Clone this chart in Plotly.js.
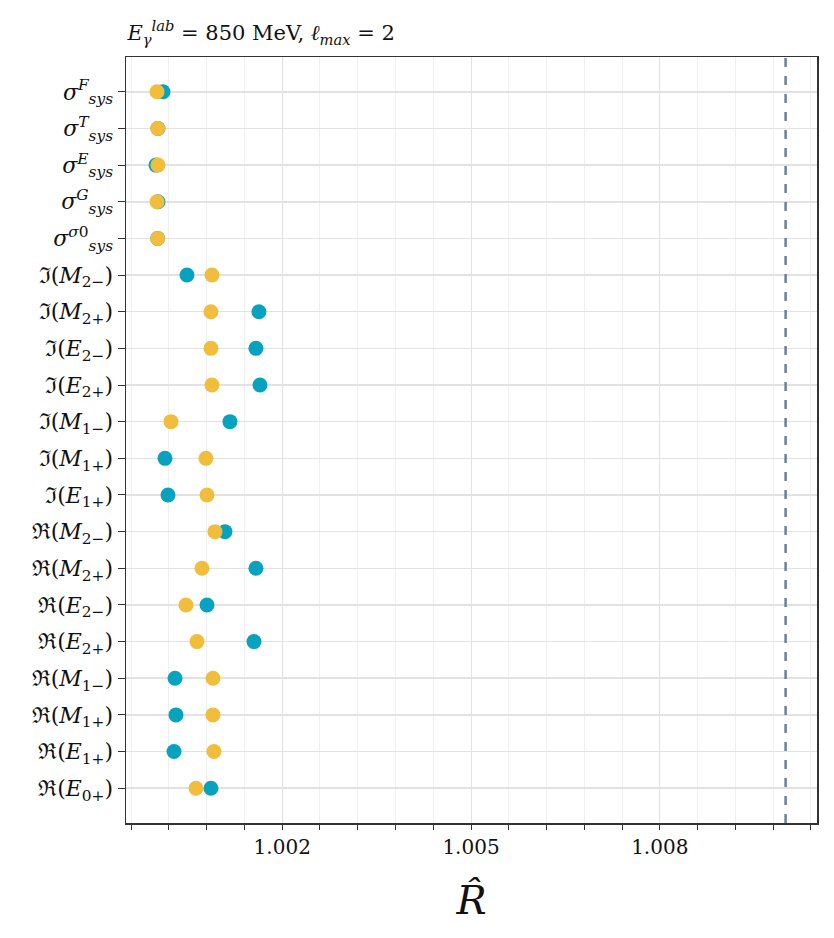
<!DOCTYPE html>
<html>
<head>
<meta charset="utf-8">
<script src="https://cdn.plot.ly/plotly-3.0.1.min.js"></script>
<style>
  html, body { margin: 0; padding: 0; background: #fff; }
  #chart { width: 834px; height: 938px; }
</style>
</head>
<body>
<div id="chart"></div>
<script>
// parameter labels, listed bottom to top
const labels = [
    'ℜ(<i>E</i><sub>0+</sub>)',
    'ℜ(<i>E</i><sub>1+</sub>)',
    'ℜ(<i>M</i><sub>1+</sub>)',
    'ℜ(<i>M</i><sub>1−</sub>)',
    'ℜ(<i>E</i><sub>2+</sub>)',
    'ℜ(<i>E</i><sub>2−</sub>)',
    'ℜ(<i>M</i><sub>2+</sub>)',
    'ℜ(<i>M</i><sub>2−</sub>)',
    'ℑ(<i>E</i><sub>1+</sub>)',
    'ℑ(<i>M</i><sub>1+</sub>)',
    'ℑ(<i>M</i><sub>1−</sub>)',
    'ℑ(<i>E</i><sub>2+</sub>)',
    'ℑ(<i>E</i><sub>2−</sub>)',
    'ℑ(<i>M</i><sub>2+</sub>)',
    'ℑ(<i>M</i><sub>2−</sub>)',
    '<i>σ</i><sup><i>σ</i>0</sup><sub><i>sys</i></sub>',
    '<i>σ</i><sup><i>G</i></sup><sub><i>sys</i></sub>',
    '<i>σ</i><sup><i>E</i></sup><sub><i>sys</i></sub>',
    '<i>σ</i><sup><i>T</i></sup><sub><i>sys</i></sub>',
    '<i>σ</i><sup><i>F</i></sup><sub><i>sys</i></sub>'
];

// R-hat values (same order as labels)
const blueValues = [
    1.000867, 1.000280, 1.000311, 1.000296, 1.001551, 1.000804, 1.001582, 1.001089,
    1.000184, 1.000137, 1.001169, 1.001646, 1.001582, 1.001630, 1.000486,
    1.000020, 1.000025, 0.999994, 1.000025, 1.000105
];
const yellowValues = [
    1.000629, 1.000915, 1.000899, 1.000899, 1.000645, 1.000470, 1.000724, 1.000931,
    1.000804, 1.000788, 1.000232, 1.000883, 1.000867, 1.000867, 1.000883,
    1.000020, 1.000010, 1.000025, 1.000020, 1.000010
];

const refLine = 1.01;

const serif = 'DejaVu Serif, serif';

const blueTrace = {
    x: blueValues,
    y: labels,
    type: 'scatter',
    mode: 'markers',
    name: 'blue',
    marker: { size: 15, color: '#07a2be' }
};

const yellowTrace = {
    x: yellowValues,
    y: labels,
    type: 'scatter',
    mode: 'markers',
    name: 'yellow',
    marker: { size: 15, color: '#f1bd3d' }
};

const layout = {
    width: 834,
    height: 938,
    margin: { l: 126, r: 17, t: 57, b: 115 },
    paper_bgcolor: '#fff',
    plot_bgcolor: '#fff',
    showlegend: false,
    font: { family: serif, color: '#111' },
    title: {
        text: '<i>E</i><sub><i>γ</i></sub><sup><i>lab</i></sup> = 850 MeV, <i>ℓ</i><sub><i>max</i></sub> = 2',
        font: { family: serif, size: 21, color: '#111' },
        x: 0.002,
        xref: 'paper',
        xanchor: 'left',
        y: 0.965,
        yref: 'container',
        yanchor: 'middle'
    },
    xaxis: {
        range: [0.999517, 1.010499],
        tick0: 1.002,
        dtick: 0.003,
        tickformat: '.3f',
        ticks: 'outside',
        ticklen: 5,
        tickcolor: '#333',
        tickfont: { family: serif, size: 20, color: '#111' },
        showgrid: true,
        gridcolor: '#e2e2e2',
        gridwidth: 1,
        zeroline: false,
        showline: true,
        linecolor: '#333',
        linewidth: 1.5,
        mirror: true,
        minor: {
            dtick: 0.0006,
            tick0: 1.002,
            ticks: 'outside',
            ticklen: 5,
            tickcolor: '#333',
            showgrid: true,
            gridcolor: '#efefef',
            gridwidth: 1
        },
        title: {
            text: '<i>R̂</i>',
            font: { family: serif, size: 40, color: '#111' },
            standoff: 28
        }
    },
    yaxis: {
        type: 'category',
        categoryorder: 'array',
        categoryarray: labels,
        range: [-0.95, 19.95],
        ticks: 'outside',
        ticklen: 7,
        tickcolor: '#333',
        tickfont: { family: serif, size: 22, color: '#111' },
        showgrid: true,
        gridcolor: '#e2e2e2',
        gridwidth: 1.5,
        zeroline: false,
        showline: true,
        linecolor: '#333',
        linewidth: 1.5,
        mirror: true
    },
    shapes: [{
        type: 'line',
        xref: 'x',
        yref: 'paper',
        x0: refLine,
        x1: refLine,
        y0: 0,
        y1: 1,
        line: { color: '#6a8097', width: 2.5, dash: '9px,9px' }
    }]
};

Plotly.newPlot('chart', [blueTrace, yellowTrace], layout, { displayModeBar: false, staticPlot: true });
</script>
</body>
</html>
